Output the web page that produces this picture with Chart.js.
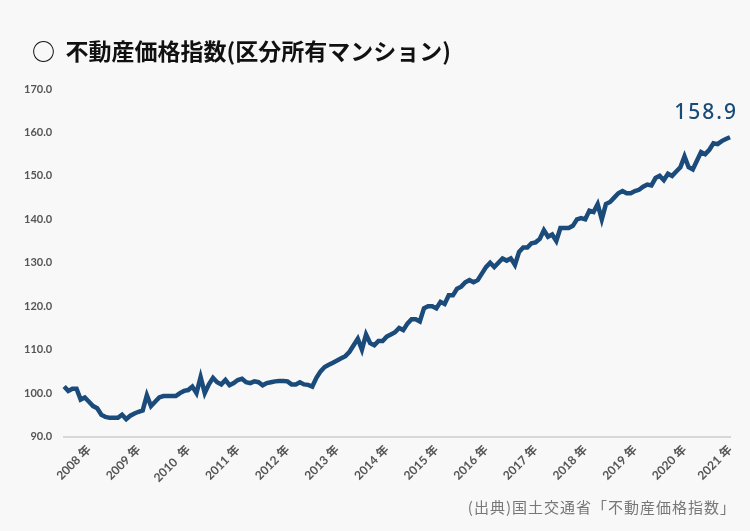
<!DOCTYPE html>
<html><head><meta charset="utf-8">
<script src="https://cdn.jsdelivr.net/npm/chart.js@4"></script>
<style>
body{margin:0;background:#f8f8f8;font-family:"Noto Sans CJK JP","Noto Sans",sans-serif;}
#wrap{position:relative;width:750px;height:531px;}
#title{position:absolute;left:32px;top:33px;font-size:23px;font-weight:bold;color:#111;}
#src{position:absolute;right:14px;top:496px;font-size:15px;color:#777;letter-spacing:1px;}
canvas{position:absolute;left:0;top:0;}
</style></head><body>
<div id="wrap">
<canvas id="c" width="750" height="531"></canvas>
<div id="title">○&nbsp;&nbsp;不動産価格指数(区分所有マンション)</div>
<div id="src">(出典)国土交通省「不動産価格指数」</div>
</div>
<script>
const values=[101.5,100.5,101,101,98.5,99,98,97,96.5,95,94.5,94.3,94.3,94.3,95,94,94.8,95.3,95.7,96,99.5,97,98,99,99.3,99.3,99.3,99.3,100,100.5,100.7,101.5,100,103.7,100,102,103.5,102.5,102,103,101.8,102.3,103,103.3,102.5,102.3,102.7,102.5,101.8,102.3,102.5,102.7,102.8,102.8,102.7,102,102,102.5,102,101.9,101.5,103.5,105,106,106.5,107,107.5,108,108.5,109.5,111,112.5,110,113.5,111.5,111,112,112,113,113.5,114,115,114.5,116,117,117,116.5,119.5,120,120,119.5,121,120.5,122.5,122.5,124,124.5,125.5,126,125.5,126,127.5,129,130,129,130,131,130.5,131,129.5,132.5,133.5,133.5,134.5,134.7,135.5,137.5,136,136.5,135,138,138,138,138.5,140,140.3,140,142,141.7,143.5,140,143.5,144,145,146,146.5,146,146,146.5,146.8,147.5,148,147.8,149.5,150,149,150.5,150,151,152,154.5,152,151.5,153.5,155.5,155,156,157.5,157.3,158,158.5,158.9];
const yearLabels=['2008 年','2009 年','2010  年','2011 年','2012 年','2013 年','2014 年','2015 年','2016 年','2017 年','2018 年','2019 年','2020 年','2021 年'];
const firstLabelIndex=6;
const lastValueText='158.9';
const labels=values.map((v,i)=>{const k=(i-firstLabelIndex)/12;return (Number.isInteger(k)&&k>=0&&k<yearLabels.length)?yearLabels[k]:'';});
if(!labels.includes(yearLabels[yearLabels.length-1]))labels[labels.length-1]=yearLabels[yearLabels.length-1];
const endLabel={id:'endLabel',afterDatasetsDraw(ch){const m=ch.getDatasetMeta(0).data;const p=m[m.length-1];const c=ch.ctx;c.save();c.font='500 21px "Noto Sans", sans-serif';c.letterSpacing='2px';c.fillStyle='#1a4a78';c.textAlign='right';c.textBaseline='alphabetic';c.fillText(lastValueText,p.x+8,p.y-18);c.restore();}};
new Chart(document.getElementById('c'),{type:'line',data:{labels,datasets:[{data:values,borderColor:'#1b4b7a',borderWidth:4.5,pointRadius:0,tension:0,borderJoinStyle:'miter'}]},
options:{responsive:false,animation:false,layout:{padding:{left:12,right:20,top:89,bottom:40}},
plugins:{legend:{display:false},tooltip:{enabled:false}},
scales:{x:{offset:false,grid:{display:false,drawTicks:false},border:{color:'#d8d8d8',width:2},
ticks:{autoSkip:false,maxRotation:45,minRotation:45,color:'#555',font:{size:12,weight:'bold',family:'Lato, "Noto Sans CJK JP"'},padding:6}},
y:{min:90,max:170,grid:{display:false,drawTicks:false},border:{display:false},
ticks:{stepSize:10,color:'#555',font:{size:11,weight:'bold',family:'Lato'},padding:12,callback:v=>v.toFixed(1)}}}},plugins:[endLabel]});
</script></body></html>
